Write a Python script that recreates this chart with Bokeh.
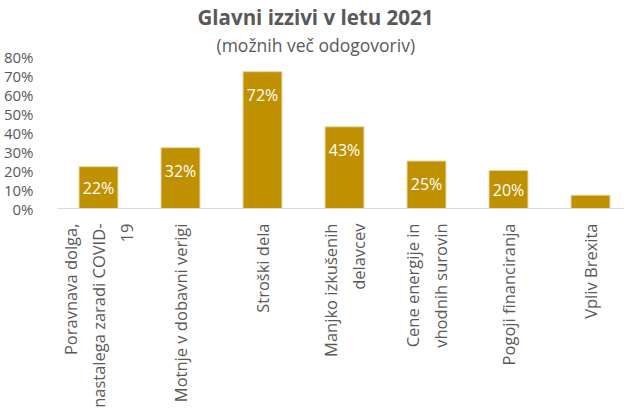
from math import pi
from bokeh.plotting import figure
from bokeh.models import Range1d, FixedTicker, ColumnDataSource, Title, PrintfTickFormatter
from bokeh.core.properties import value
from bokeh.embed import file_html
from bokeh.resources import INLINE

# ---- data ----
categories = [
    "Poravnava dolga,\nnastalega zaradi COVID-\n19",
    "Motnje v dobavni verigi",
    "Stroški dela",
    "Manjko izkušenih\ndelavcev",
    "Cene energije in\nvhodnih surovin",
    "Pogoji financiranja",
    "Vpliv Brexita",
]
values = [22, 32, 72, 43, 25, 20, 7]
show_label = [True, True, True, True, True, True, False]
y_ticks = [0, 10, 20, 30, 40, 50, 60, 70, 80]

title_text = "Glavni izzivi v letu 2021"
subtitle_text = "(možnih več odogovoriv)"

# ---- styles ----
FONT = "Open Sans"
GREY = "#595959"
BAR = "#BF9000"

x_idx = list(range(len(categories)))
label_text = [f"{v}%" if s else "" for v, s in zip(values, show_label)]
label_y = [max(v - 12.1, v / 2) for v in values]

src = ColumnDataSource(dict(x=x_idx, top=values, ly=label_y, lt=label_text))

FRAME_W = 567
FRAME_H = 152
p = figure(
    frame_width=FRAME_W, frame_height=FRAME_H,
    x_range=Range1d(-0.5, -0.5 + FRAME_W / 82.0),
    y_range=Range1d(0, 80),
    output_backend="svg", toolbar_location=None,
    min_border_left=50, min_border_right=0, min_border_top=0, min_border_bottom=0,
)
p.outline_line_color = None
p.xgrid.visible = False
p.ygrid.visible = False
p.background_fill_color = "white"
p.border_fill_color = "white"

p.vbar(x="x", top="top", bottom=0, width=0.475, source=src,
       fill_color=BAR, line_color="#E6D6A6", line_width=1)

p.text(x="x", y="ly", text="lt", source=src, text_align="center",
       text_baseline="middle", text_color="white",
       text_font=value(FONT), text_font_size="16px")

# axes
xa = p.xaxis[0]
xa.ticker = FixedTicker(ticks=x_idx)
xa.major_label_overrides = {i: c for i, c in zip(x_idx, categories)}
xa.major_label_orientation = pi / 2
xa.axis_line_color = "#D9D9D9"
xa.axis_line_width = 1
xa.major_tick_line_color = None
xa.minor_tick_line_color = None
xa.major_label_text_font = FONT
xa.major_label_text_font_size = "16.5px"
xa.major_label_text_color = GREY
xa.major_label_standoff = 9

ya = p.yaxis[0]
ya.ticker = FixedTicker(ticks=y_ticks)
ya.formatter = PrintfTickFormatter(format="%d%%")
ya.axis_line_color = None
ya.major_tick_line_color = None
ya.minor_tick_line_color = None
ya.major_label_text_font = FONT
ya.major_label_text_font_size = "15px"
ya.major_label_text_color = GREY
ya.major_label_standoff = 18

# titles
p.add_layout(Title(text=subtitle_text, align="left", offset=159,
                   text_font=FONT, text_font_size="17.5px", text_font_style="normal",
                   text_color=GREY, standoff=0), "above")
p.title.text = title_text
p.title.align = "left"
p.title.offset = 140
p.title.standoff = 0
p.title.text_font = FONT
p.title.text_font_size = "20.5px"
p.title.text_font_style = "bold"
p.title.text_color = GREY

open("out.html", "w").write(file_html(p, INLINE))
